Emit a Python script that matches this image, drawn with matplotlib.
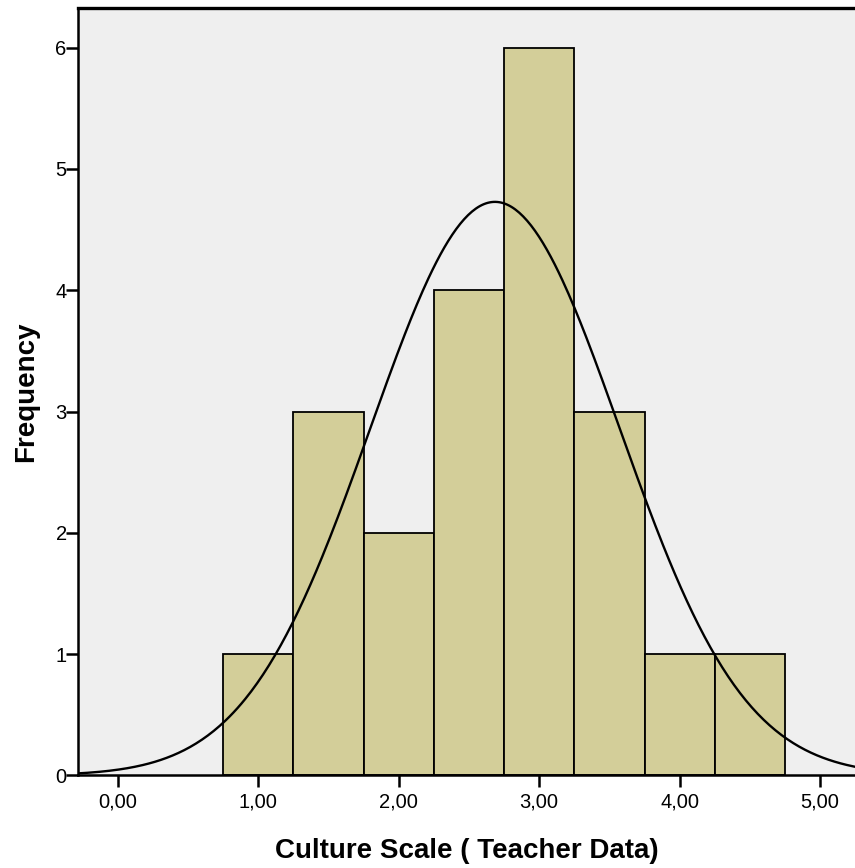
import numpy as np
import matplotlib
matplotlib.use('Agg')
import matplotlib.pyplot as plt

# ─── Data: histogram of culture scale (teacher data)
#
bin_edges = [0.75, 1.25, 1.75, 2.25, 2.75, 3.25, 3.75, 4.25, 4.75]
counts = [1, 3, 2, 4, 6, 3, 1, 1]
mean_val = 2.685
sd_val = 0.886
n_total = sum(counts)
bin_width = 0.5

x_ticks = [0, 1, 2, 3, 4, 5]
x_tick_labels = ['0,00', '1,00', '2,00', '3,00', '4,00', '5,00']
y_ticks = [0, 1, 2, 3, 4, 5, 6]

plt.rcParams['font.family'] = ['Liberation Sans', 'DejaVu Sans']

fig = plt.figure(figsize=(8.55, 8.68), dpi=100)
ax = fig.add_axes([0.0918, 0.1066, 0.9082, 0.8842])
ax.set_facecolor('#efefef')

lefts = np.array(bin_edges[:-1])
ax.bar(lefts, counts, width=np.diff(bin_edges), align='edge',
       color='#d3ce99', edgecolor='black', linewidth=1.3, zorder=2)

# Normal curve scaled to counts
xs = np.linspace(-0.3, 5.3, 400)
pdf = np.exp(-0.5 * ((xs - mean_val) / sd_val) ** 2) / (sd_val * np.sqrt(2 * np.pi))
ax.plot(xs, pdf * n_total * bin_width, color='black', linewidth=1.7, zorder=3)

ax.set_xlim(-0.281, 5.249)
ax.set_ylim(0, 6.326)
ax.set_xticks(x_ticks)
ax.set_xticklabels(x_tick_labels)
ax.set_yticks(y_ticks)
ax.tick_params(axis='both', direction='out', length=8.5, width=1.8, labelsize=14.5)
ax.tick_params(axis='x', pad=4)
ax.tick_params(axis='y', pad=0)

for side in ['left', 'bottom']:
    ax.spines[side].set_linewidth(1.8)
ax.spines['top'].set_linewidth(2.4)
ax.spines['right'].set_visible(False)

ax.set_xlabel('Culture Scale ( Teacher Data)', fontsize=20, fontweight='bold', labelpad=19)
ax.set_ylabel('Frequency', fontsize=20, fontweight='bold', labelpad=12)

plt.savefig('out.png', dpi=100)
plt.close(fig)
